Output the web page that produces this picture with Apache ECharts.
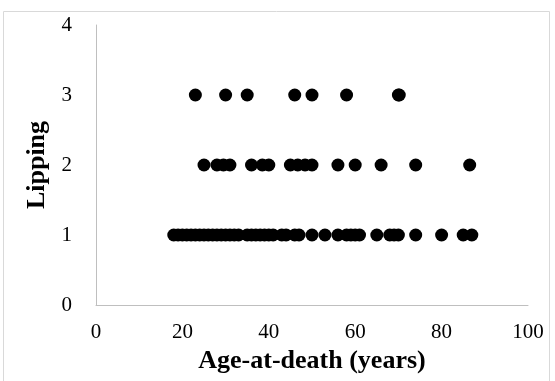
<!DOCTYPE html>
<html><head><meta charset="utf-8">
<script src="https://cdn.jsdelivr.net/npm/echarts@6/dist/echarts.min.js"></script>
<style>html,body{margin:0;padding:0;background:#fff}#c{width:555px;height:381px}</style>
</head><body><div id="c"></div>
<script>
const lipping1Ages = [18,19,20,21,22,23,24,25,26,27,28,29,30,31,32,33,35,36,37,38,39,40,41,43,44,46,47,50,53,56,58,59,60,61,65,68,69,70,74,80,85,87];
const lipping2Ages = [25,28,29.5,31,36,38.5,40,45,46.7,48.4,50,56,60,66,74,86.5];
const lipping3Ages = [23,30,35,46,50,58,70,70.2];
const xTicks = [0,20,40,60,80,100];
const yTicks = [0,1,2,3,4];

const data = [];
lipping1Ages.forEach(a => data.push([a, 1]));
lipping2Ages.forEach(a => data.push([a, 2]));
lipping3Ages.forEach(a => data.push([a, 3]));

const chart = echarts.init(document.getElementById('c'));
const serif = '"Liberation Serif","Times New Roman",serif';
chart.setOption({
  animation: false,
  graphic: [{type:'rect', shape:{x:3.5,y:11.5,width:546,height:380}, style:{fill:'none', stroke:'#d9d9d9', lineWidth:1}, silent:true}],
  grid: {left: 96, right: 27, top: 25, bottom: 76},
  xAxis: {
    type: 'value', min: xTicks[0], max: xTicks[xTicks.length-1], interval: 20,
    name: 'Age-at-death (years)', nameLocation: 'middle', nameGap: 43,
    nameTextStyle: {fontFamily: serif, fontWeight: 'bold', fontSize: 26, color: '#000'},
    axisLine: {lineStyle: {color: '#bfbfbf', width: 1}},
    axisTick: {show: false}, splitLine: {show: false},
    axisLabel: {fontFamily: serif, fontSize: 21, color: '#000', margin: 17}
  },
  yAxis: {
    type: 'value', min: yTicks[0], max: yTicks[yTicks.length-1], interval: 1,
    name: 'Lipping', nameLocation: 'middle', nameGap: 42, nameRotate: 90,
    nameTextStyle: {fontFamily: serif, fontWeight: 'bold', fontSize: 26, color: '#000'},
    axisLine: {show: true, lineStyle: {color: '#bfbfbf', width: 1}},
    axisTick: {show: false}, splitLine: {show: false},
    axisLabel: {fontFamily: serif, fontSize: 21, color: '#000', margin: 24}
  },
  series: [{
    type: 'scatter', data: data, symbol: 'circle', symbolSize: 13,
    itemStyle: {color: '#000', opacity: 1}
  }]
});
</script></body></html>
